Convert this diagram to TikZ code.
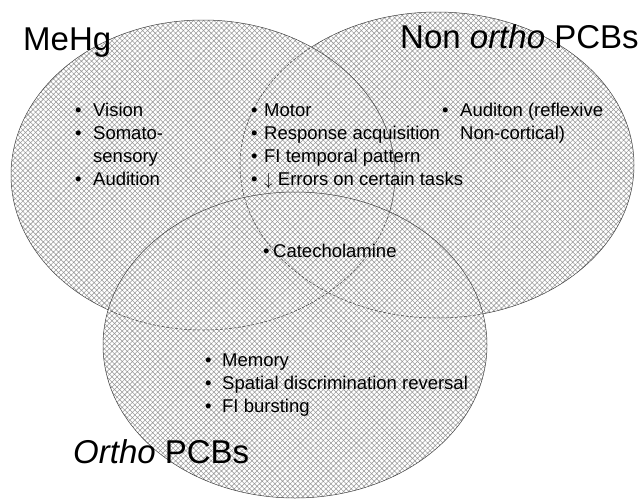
\documentclass[tikz,border=0pt]{standalone}
\usepackage{fontspec}
\setmainfont{Liberation Sans}
\usetikzlibrary{patterns.meta}

\tikzset{
  hatch/.style={pattern={Hatch[angle=45, distance=3.6pt, line width=0.55pt]},
    pattern color=black!40},
  rim/.style={draw=black!75, line width=0.5pt},
  hidden/.style={dash pattern=on 3pt off 1.5pt},
  mehgshape/.style={insert path={(mehg) ellipse [x radius=192pt, y radius=155pt]}},
  nonorthoshape/.style={insert path={(nonortho) ellipse [x radius=197pt, y radius=153pt]}},
  orthoshape/.style={insert path={(ortho) ellipse [x radius=192pt, y radius=153pt]}},
  title/.style={anchor=base west, inner sep=0pt, font=\fontsize{33}{38}\selectfont},
  items/.style={anchor=base west, inner sep=0pt, align=left,
    font=\fontsize{18.5}{22.7}\selectfont},
}
\newcommand{\bul}[1]{\makebox[#1][l]{•}}

\begin{document}
\begin{tikzpicture}[x=1pt, y=-1pt]
    % ================= Canvas =================
    \path[use as bounding box] (0,0) rectangle (643,499);
    \coordinate (ne) at (-5,-5);
    \coordinate (sw) at (650,505);

    % Centres of the three sets
    \coordinate (nonortho) at (437,165);
    \coordinate (mehg) at (203,175);
    \coordinate (ortho) at (295,345);

    % ================= Sets =================
    % one hatched union, so the overlaps keep the same tone
    \path[hatch, nonorthoshape, mehgshape, orthoshape];

    % Ortho lies on top
    \path[rim, orthoshape];
    % MeHg: solid outside Ortho, broken inside
    \begin{scope}[even odd rule]
      \clip[orthoshape] (ne) rectangle (sw);
      \path[rim, mehgshape];
    \end{scope}
    \begin{scope}
      \clip[orthoshape];
      \path[rim, hidden, mehgshape];
    \end{scope}
    % Non ortho: solid outside the other two, broken inside
    \begin{scope}[even odd rule]
      \clip[orthoshape] (ne) rectangle (sw);
      \clip[mehgshape] (ne) rectangle (sw);
      \path[rim, nonorthoshape];
    \end{scope}
    \begin{scope}
      \clip[orthoshape, mehgshape];
      \path[rim, hidden, nonorthoshape];
    \end{scope}

    % ================= Titles =================
    \node[title] (mehgtitle) at (23,50) {MeHg};
    \node[title] (nonorthotitle) at (400,48) {Non \textit{ortho} PCBs};
    \node[title] (orthotitle) at (73,463) {\textit{Ortho} PCBs};

    % ================= Effects =================
    % (base anchor sits on the last line)
    % MeHg only
    \node[items] (mehglist) at (75,185)
      {\bul{18pt}Vision\\\bul{18pt}Somato-\\\hspace*{18pt}sensory\\\bul{18pt}Audition};
    % MeHg and non ortho PCBs
    \node[items] (sharedlist) at (251,185)
      {\bul{13pt}Motor\\\bul{13pt}Response acquisition\\\bul{13pt}FI temporal pattern\\
       \bul{13pt}$\downarrow$ Errors on certain tasks};
    % Non ortho PCBs only
    \node[items] (nonortholist) at (442,139)
      {\bul{18pt}Auditon (reflexive\\\hspace*{18pt}Non-cortical)};
    % All three
    \node[items] (alllist) at (263,257) {\bul{10pt}Catecholamine};
    % Ortho PCBs only
    \node[items] (ortholist) at (205,412)
      {\bul{17pt}Memory\\\bul{17pt}Spatial discrimination reversal\\\bul{17pt}FI bursting};

\end{tikzpicture}
\end{document}
